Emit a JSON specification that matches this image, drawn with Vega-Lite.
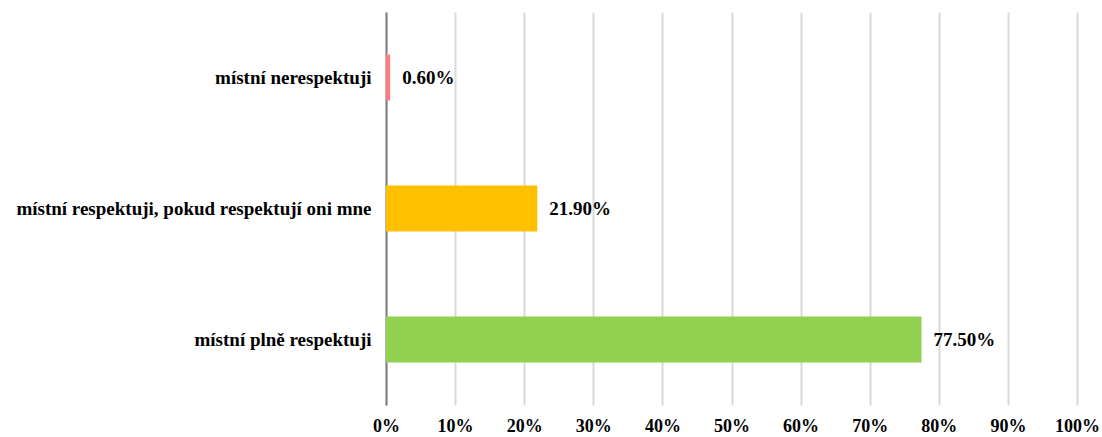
{
  "$schema": "https://vega.github.io/schema/vega-lite/v6.json",
  "width": 691,
  "height": 393,
  "autosize": {"type": "none"},
  "padding": {"left": 386, "top": 12, "right": 25, "bottom": 32},
  "background": "white",
  "data": {"values": [
    {"kategorie": "místní nerespektuji", "podil": 0.006, "barva": "#FF7C80"},
    {"kategorie": "místní respektuji, pokud respektují oni mne", "podil": 0.219, "barva": "#FFC000"},
    {"kategorie": "místní plně respektuji", "podil": 0.775, "barva": "#92D050"}
  ]},
  "config": {
    "view": {"stroke": null},
    "font": "Liberation Serif",
    "axis": {"labelFont": "Liberation Serif", "labelFontWeight": "bold", "labelFontSize": 19, "labelColor": "#000000"}
  },
  "layer": [
    {
      "mark": {"type": "bar"},
      "encoding": {
        "y": {"field": "kategorie", "type": "nominal", "sort": null,
          "scale": {"paddingInner": 0.65, "paddingOuter": 0.325},
          "axis": {"title": null, "ticks": false, "grid": false, "domainColor": "#7F7F7F", "domainWidth": 2, "labelPadding": 15, "labelLimit": 400}},
        "x": {"field": "podil", "type": "quantitative",
          "scale": {"domain": [0, 1], "nice": false},
          "axis": {"title": null, "format": ".0%", "values": [0,0.1,0.2,0.3,0.4,0.5,0.6,0.7,0.8,0.9,1], "ticks": false, "domain": false, "grid": true, "gridColor": "#D9D9D9", "gridWidth": 2, "labelPadding": 12, "labelFontSize": 18, "labelFlush": false}},
        "color": {"field": "barva", "type": "nominal", "scale": null}
      }
    },
    {
      "mark": {"type": "text", "align": "left", "baseline": "middle", "dx": 12, "fontWeight": "bold", "fontSize": 19, "font": "Liberation Serif", "color": "#000000"},
      "encoding": {
        "y": {"field": "kategorie", "type": "nominal", "sort": null},
        "x": {"field": "podil", "type": "quantitative"},
        "text": {"field": "podil", "type": "quantitative", "format": ".2%"}
      }
    }
  ]
}
